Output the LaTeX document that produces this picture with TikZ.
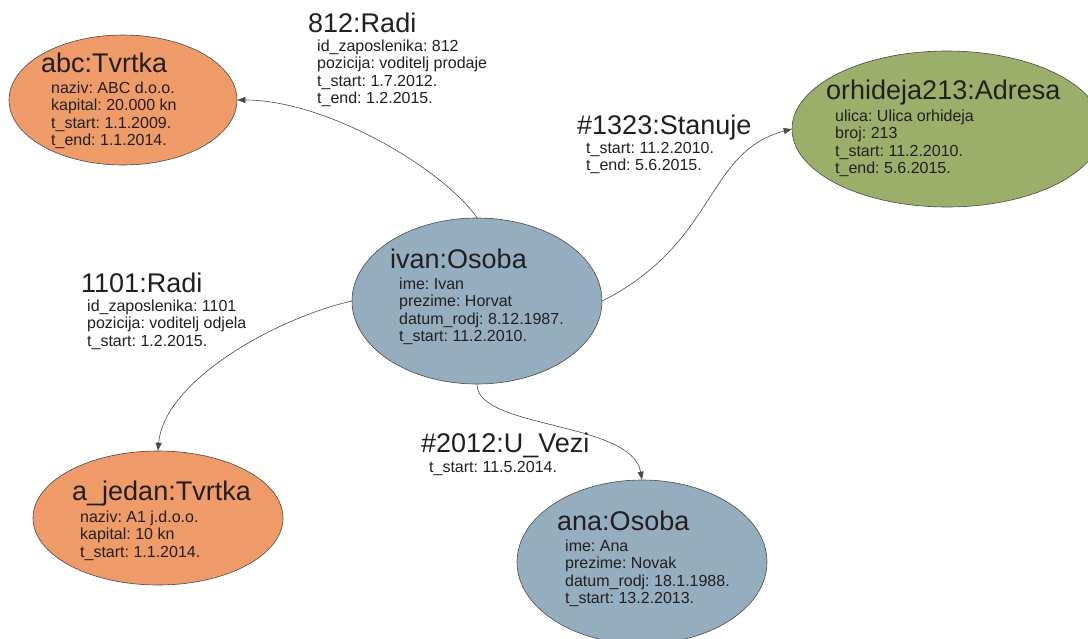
\documentclass[tikz,border=0pt]{standalone}
\usepackage{fontspec}
\setmainfont{Liberation Sans}
\usetikzlibrary{shapes.geometric,arrows.meta}
\definecolor{orng}{HTML}{EE9A69}
\definecolor{grn}{HTML}{9BAF6B}
\definecolor{blu}{HTML}{94AEBF}
\definecolor{ink}{HTML}{231F20}
\definecolor{edgec}{HTML}{4A4A4A}
\frenchspacing
\newcommand\attrlines[1]{\vtop{\baselineskip=17.6pt\lineskiplimit=-20pt\halign{##\hfil\cr#1\crcr}}}
\tikzset{
  entity/.style={ellipse, draw=edgec, line width=0.6pt, inner sep=0pt},
  ttl/.style={anchor=base west, inner sep=0pt, font=\fontsize{27}{30}\selectfont, text=ink},
  attr/.style={anchor=base west, inner sep=0pt, font=\fontsize{16}{17.6}\selectfont, text=ink},
  rel/.style={draw=edgec, line width=0.6pt, -{Triangle[length=8pt,width=6pt]}}
}
\begin{document}
\frenchspacing
\begin{tikzpicture}[x=1pt,y=-1pt]
\useasboundingbox (0,0) rectangle (1088,638);
\clip (0,0) rectangle (1088,638);
\fill[white] (0,0) rectangle (1088,638);
% entities
\node[entity, fill=orng, minimum width=228pt, minimum height=130pt] (abc) at (123,100) {};
\node[entity, fill=grn, minimum width=310pt, minimum height=156pt] (orh) at (947,129) {};
\node[entity, fill=blu, minimum width=250pt, minimum height=166pt] (ivan) at (477,301) {};
\node[entity, fill=orng, minimum width=250pt, minimum height=134pt] (ajedan) at (158,518) {};
\node[entity, fill=blu, minimum width=250pt, minimum height=164pt] (ana) at (642,562) {};
% connectors
\draw[rel] (ivan.north) to[out=125, in=0, out looseness=0.57, in looseness=0.86] (abc.east);
\draw[rel] (ivan.west) to[out=193, in=85, out looseness=0.83, in looseness=0.73] (ajedan.north);
\draw[rel] (ivan.east) to[out=27, in=195, out looseness=1.3, in looseness=0.9] (orh.west);
\draw[rel] (ivan.south) to[out=-90, in=100, out looseness=0.6, in looseness=0.8] (ana.north);
% entity texts
\node[ttl] (abcT) at (41,72) {abc:Tvrtka};
\node[attr] (abcA) at (51,93) {\attrlines{naziv: ABC d.o.o.\cr kapital: 20.000 kn\cr t\_start: 1.1.2009.\cr t\_end: 1.1.2014.}};
\node[ttl] (orhT) at (826,99) {orhideja213:Adresa};
\node[attr] (orhA) at (835,121) {\attrlines{ulica: Ulica orhideja\cr broj: 213\cr t\_start: 11.2.2010.\cr t\_end: 5.6.2015.}};
\node[ttl] (ivanT) at (390,268) {ivan:Osoba};
\node[attr] (ivanA) at (399,289) {\attrlines{ime: Ivan\cr prezime: Horvat\cr datum\_rodj: 8.12.1987.\cr t\_start: 11.2.2010.}};
\node[ttl] (ajedanT) at (72,500) {a\_jedan:Tvrtka};
\node[attr] (ajedanA) at (80,522) {\attrlines{naziv: A1 j.d.o.o.\cr kapital: 10 kn\cr t\_start: 1.1.2014.}};
\node[ttl] (anaT) at (557,530) {ana:Osoba};
\node[attr] (anaA) at (565,551) {\attrlines{ime: Ana\cr prezime: Novak\cr datum\_rodj: 18.1.1988.\cr t\_start: 13.2.2013.}};
% relation labels
\node[ttl] (r812T) at (308,32) {812:Radi};
\node[attr] (r812A) at (317,51) {\attrlines{id\_zaposlenika: 812\cr pozicija: voditelj prodaje\cr t\_start: 1.7.2012.\cr t\_end: 1.2.2015.}};
\node[ttl] (r1323T) at (577,134) {\#1323:Stanuje};
\node[attr] (r1323A) at (586,153) {\attrlines{t\_start: 11.2.2010.\cr t\_end: 5.6.2015.}};
\node[ttl] (r1101T) at (81,292) {1101:Radi};
\node[attr] (r1101A) at (87,311) {\attrlines{id\_zaposlenika: 1101\cr pozicija: voditelj odjela\cr t\_start: 1.2.2015.}};
\node[ttl] (r2012T) at (421,452) {\#2012:U\_Vezi};
\node[attr] (r2012A) at (429,472) {\attrlines{t\_start: 11.5.2014.}};
\end{tikzpicture}
\end{document}
